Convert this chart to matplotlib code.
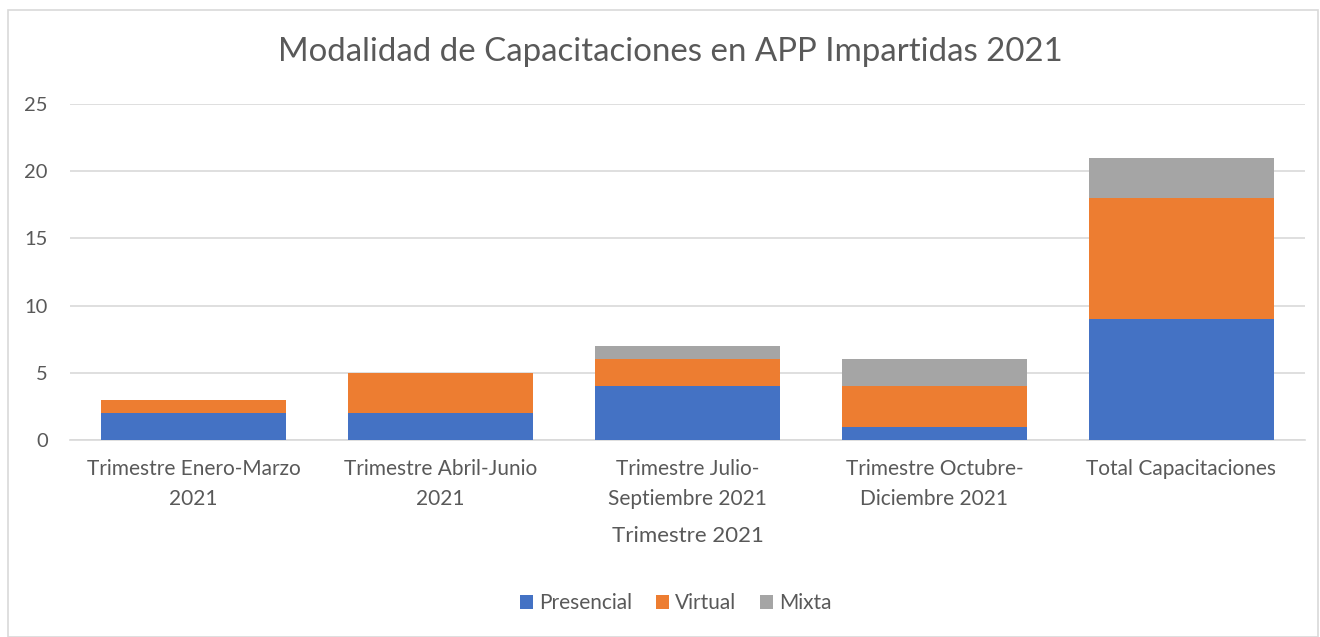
import matplotlib.pyplot as plt
import matplotlib.patches as mpatches
import numpy as np

categorias = ['Trimestre Enero-Marzo\n2021', 'Trimestre Abril-Junio\n2021',
              'Trimestre Julio-\nSeptiembre 2021', 'Trimestre Octubre-\nDiciembre 2021',
              'Total Capacitaciones']
presencial = [2, 2, 4, 1, 9]
virtual = [1, 3, 2, 3, 9]
mixta = [0, 0, 1, 2, 3]
y_ticks = [0, 5, 10, 15, 20, 25]

plt.rcParams['font.family'] = ['Lato', 'DejaVu Sans']
gris_texto = '#595959'

fig = plt.figure(figsize=(13.2, 6.37), dpi=100)
ax = fig.add_axes([70 / 1320, 197 / 637, 1235 / 1320, 336 / 637])

x = np.arange(len(categorias))
ancho = 0.75
base2 = np.array(presencial) + np.array(virtual)
ax.bar(x, presencial, ancho, color='#4472C4', label='Presencial', zorder=3)
ax.bar(x, virtual, ancho, bottom=presencial, color='#ED7D31', label='Virtual', zorder=3)
ax.bar(x, mixta, ancho, bottom=base2, color='#A5A5A5', label='Mixta', zorder=3)

ax.set_xlim(-0.5, len(categorias) - 0.5)
ax.set_ylim(0, 25)
ax.set_yticks(y_ticks)
ax.set_xticks(x)
ax.set_xticklabels(categorias, fontsize=15, color=gris_texto, linespacing=1.6)
ax.tick_params(axis='y', labelsize=14.5, labelcolor=gris_texto, length=0, pad=16)
ax.tick_params(axis='x', length=0, pad=14)
ax.grid(axis='y', color='#D9D9D9', linewidth=1.2, zorder=0)
for s in ['top', 'right', 'left']:
    ax.spines[s].set_visible(False)
ax.spines['bottom'].set_color('#D9D9D9')
ax.spines['bottom'].set_linewidth(1.2)

ax.set_xlabel('Trimestre 2021', fontsize=16, color=gris_texto, labelpad=12)
fig.text(0.508, 1 - 52 / 637, 'Modalidad de Capacitaciones en APP Impartidas 2021',
         ha='center', va='center', fontsize=23.8, color=gris_texto)

fig.legend(loc='center', bbox_to_anchor=(0.512, 1 - 603 / 637), ncol=3, frameon=False,
           fontsize=15, labelcolor=gris_texto, handlelength=0.65, handleheight=0.65,
           handletextpad=0.3, columnspacing=1.1)

fig.patches.append(mpatches.Rectangle((8 / 1320, 0), 1310 / 1320, 1 - 10 / 637,
                                      transform=fig.transFigure, fill=False,
                                      edgecolor='#D9D9D9', linewidth=1.2))

plt.savefig('out.png')
plt.close()
